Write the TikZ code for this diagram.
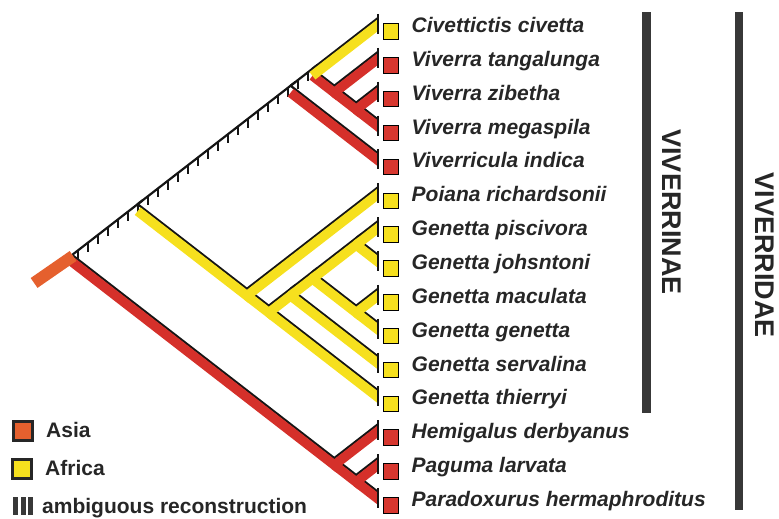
\documentclass[tikz,border=0pt]{standalone}
\usepackage{fontspec}
\setmainfont{Liberation Sans}
\usetikzlibrary{calc}
\definecolor{yel}{HTML}{F6E01E}
\definecolor{redc}{HTML}{D5302A}
\definecolor{asia}{HTML}{E5602E}
\definecolor{sqred}{HTML}{D7372F}
\definecolor{txt}{HTML}{262626}
\definecolor{barc}{HTML}{383838}
\definecolor{edgeblack}{HTML}{151515}
\tikzset{
  edgeline/.style={line width=2.2pt, draw=edgeblack, line cap=round},
  band/.style={line width=9.5pt, line cap=butt},
  hatchtick/.style={line width=2pt, draw=edgeblack},
  tiptick/.style={line width=1.5pt, draw=edgeblack},
  tipsq/.style={draw=black, line width=1pt, minimum size=15.5pt, inner sep=0pt},
  lab/.style={anchor=base west, inner sep=0pt, text=txt, font=\fontsize{21}{24}\selectfont\bfseries\itshape},
  leglab/.style={anchor=base west, inner sep=0pt, text=txt, font=\fontsize{21}{24}\selectfont\bfseries},
  legsq/.style={draw=txt, line width=2.8pt, minimum size=19.5pt, inner sep=0pt},
  cladelab/.style={rotate=-90, inner sep=0pt, text=txt, font=\fontsize{27}{30}\selectfont\bfseries},
  cladebar/.style={fill=barc, draw=none},
}
\begin{document}
\begin{tikzpicture}[x=1pt,y=-1pt]
\useasboundingbox (0,0) rectangle (779,519);
\def\tipx{378}
\def\dy{33.85}
\def\ty{25}
\def\kx{21.85}
% tips
\foreach \i in {0,...,14}{\coordinate (T\i) at (\tipx, {\ty+\dy*\i});}
% internal nodes (slanted cladogram)
\foreach \n/\a/\b in {R/0/14, VI/0/11, VV/0/4, CV/0/3, VR/1/3, ZM/2/3, GT/5/11, GN/6/11, G1/6/10, G2/6/9, PJ/6/7, MG/8/9, PA/12/14, PP/13/14}
  {\coordinate (\n) at ({\tipx-\kx*(\b-\a)}, {\ty+\dy*(\a+\b)/2});}

\begin{scope}
\clip (0,0) rectangle (\tipx,519);
% black upper edges
\foreach \a/\b in {R/VI,VI/VV,VV/CV,CV/T0,CV/VR,VR/T1,VR/ZM,ZM/T2,ZM/T3,VV/T4,VI/GT,GT/T5,GT/GN,GN/T11,GN/G1,G1/T10,G1/G2,G2/PJ,G2/MG,PJ/T6,PJ/T7,MG/T8,MG/T9,R/PA,PA/T12,PA/PP,PP/T13,PP/T14}
  {\draw[edgeline, shorten >=-6pt] ([yshift=7pt]\a) -- ([yshift=7pt]\b);}
% ambiguous reconstruction hatching
\foreach \xx in {78,88,...,308}
  {\draw[hatchtick] ({\xx}, {261.95-0.7746*(\xx-72.1)-7}) -- ++(0,9);}
% red (Asia) branches
\foreach \a/\b in {CV/VR,VR/T1,VR/ZM,ZM/T2,ZM/T3,VV/T4,R/PA,PA/T12,PA/PP,PP/T13,PP/T14}
  {\draw[band, draw=redc, shorten >=-6pt] (\a) -- (\b);}
% yellow (Africa) branches
\foreach \a/\b in {CV/T0,VI/GT,GT/T5,GT/GN,GN/T11,GN/G1,G1/T10,G1/G2,G2/PJ,G2/MG,PJ/T6,PJ/T7,MG/T8,MG/T9}
  {\draw[band, draw=yel, shorten >=-6pt] (\a) -- (\b);}
% root stub
\draw[line width=12pt, draw=asia] ($(R)+(1,-6)$) -- ++(-39,27);
\end{scope}

% tip ticks
\foreach \i in {0,...,14}{\draw[tiptick] ([yshift=11pt]T\i) -- ([yshift=-9pt]T\i);}

% tip squares and labels
\foreach \i/\c/\t in {0/yel/Civettictis civetta, 1/sqred/Viverra tangalunga, 2/sqred/Viverra zibetha, 3/sqred/Viverra megaspila, 4/sqred/Viverricula indica, 5/yel/Poiana richardsonii, 6/yel/Genetta piscivora, 7/yel/Genetta johsntoni, 8/yel/Genetta maculata, 9/yel/Genetta genetta, 10/yel/Genetta servalina, 11/yel/Genetta thierryi, 12/sqred/Hemigalus derbyanus, 13/sqred/Paguma larvata, 14/sqred/Paradoxurus hermaphroditus}
{
  \node[tipsq, fill=\c] (sq\i) at ($(T\i)+(13,6.5)$) {};
  \node[lab] (lab\i) at ($(T\i)+(33.5,7.5)$) {\t};
}

% clade bars and names
\fill[cladebar] (641.5,12) rectangle (650.5,413);
\fill[cladebar] (734.5,12) rectangle (743,510);
\node[cladelab] (viverrinae) at (672,212) {VIVERRINAE};
\node[cladelab] (viverridae) at (765,255) {VIVERRIDAE};

% legend
\node[legsq, fill=asia] (legA) at (23,431) {};
\node[leglab] (legAt) at (46,437) {Asia};
\node[legsq, fill=yel] (legB) at (22,469) {};
\node[leglab] (legBt) at (45,475) {Africa};
\fill[barc] (13,497) rectangle (18,515);
\fill[barc] (20.5,497) rectangle (25.5,515);
\fill[barc] (28,497) rectangle (33,515);
\node[leglab] (legCt) at (42,513) {ambiguous reconstruction};
\end{tikzpicture}
\end{document}
